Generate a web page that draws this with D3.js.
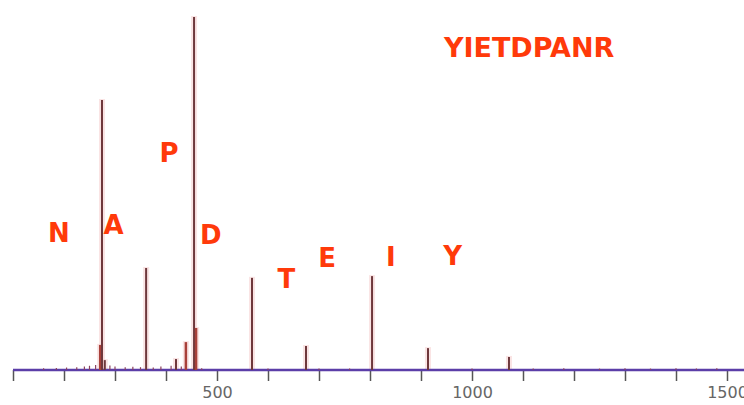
<!DOCTYPE html>
<html><head><meta charset="utf-8">
<script src="https://cdn.jsdelivr.net/npm/d3@7/dist/d3.min.js"></script>
<style>body{margin:0;background:#fff}svg{display:block}</style>
</head><body>
<svg id="c" width="744" height="405"></svg>
<script>
// m/z of peaks and relative intensities (% of base peak)
const peakMz = [271, 274.5, 280, 361, 419.6, 439, 455, 459, 568.6, 674.5, 804, 913.7, 1072.5];
const peakInt = [7.1, 76.5, 2.8, 28.9, 3.1, 7.9, 100, 11.9, 26.1, 6.8, 26.6, 6.2, 3.7];
// small noise peaks along the baseline
const noiseMz = [160, 185, 205, 225, 240, 250, 262, 290, 300, 320, 335, 350, 375, 390, 410, 430, 470, 600, 700, 760, 1000, 1120, 1180, 1250, 1300, 1350, 1400, 1440, 1480];
const noiseInt = [0.5, 0.6, 0.7, 0.8, 1.0, 1.2, 1.4, 1.3, 1.0, 0.8, 0.9, 0.8, 0.7, 1.0, 1.2, 1.0, 0.5, 0.4, 0.4, 0.4, 0.4, 0.4, 0.5, 0.4, 0.5, 0.4, 0.5, 0.4, 0.5];
const tickValues = [100,200,300,400,500,600,700,800,900,1000,1100,1200,1300,1400,1500];
const labeledTicks = [500, 1000, 1500];
// residue labels
const resLetters = ["N","A","P","D","T","E","I","Y"];
const resMz = [190, 297, 406, 488, 636, 716, 841, 962];
const resInt = [36.3, 38.5, 58.9, 35.7, 23.2, 29.2, 29.5, 29.7];
const title = "YIETDPANR";

const svg = d3.select("#c");
const x = d3.scaleLinear().domain([100, 1550]).range([13, 752.5]);
const y = d3.scaleLinear().domain([0, 100]).range([370, 17]);

// halo
svg.append("g").selectAll("line").data(peakMz).join("line")
  .attr("x1", d => x(d)).attr("x2", d => x(d))
  .attr("y1", y(0)).attr("y2", (d,i) => y(peakInt[i]) - 1)
  .attr("stroke", "#f7d3d3").attr("stroke-width", 6).attr("opacity", 0.6);

// axis
const ax = svg.append("g").attr("transform", `translate(0,${y(0)})`)
  .call(d3.axisBottom(x).tickValues(tickValues).tickSize(11).tickPadding(7)
    .tickFormat(d => labeledTicks.includes(d) ? d : ""));
ax.select(".domain").remove();
ax.selectAll(".tick line").attr("stroke", "#555").attr("stroke-width", 1.5);
ax.selectAll(".tick text").attr("fill", "#666").attr("font-family", "DejaVu Sans")
  .attr("font-size", 16).attr("dy", "0.6em");
svg.append("line").attr("x1", x(100)).attr("x2", 744).attr("y1", y(0)).attr("y2", y(0))
  .attr("stroke", "#5b3ea8").attr("stroke-width", 2.5);

// noise
svg.append("g").selectAll("line").data(noiseMz).join("line")
  .attr("x1", d => x(d)).attr("x2", d => x(d))
  .attr("y1", y(0)).attr("y2", (d,i) => y(noiseInt[i]))
  .attr("stroke", "#8a4060").attr("stroke-width", 1.2);

// peaks
svg.append("g").selectAll("line").data(peakMz).join("line")
  .attr("x1", d => x(d)).attr("x2", d => x(d))
  .attr("y1", y(0)).attr("y2", (d,i) => y(peakInt[i]))
  .attr("stroke", (d,i) => (peakInt[i] < 15 && peakInt[i] > 5 && d < 500) ? "#a8403a" : "#6e383c")
  .attr("stroke-width", (d,i) => (peakInt[i] < 15 && peakInt[i] > 5 && d < 500) ? 2.5 : 2);

// labels
svg.append("g").selectAll("text").data(resLetters).join("text")
  .attr("x", (d,i) => x(resMz[i])).attr("y", (d,i) => y(resInt[i]))
  .attr("text-anchor", "middle").attr("font-family", "DejaVu Sans").attr("font-weight", "bold")
  .attr("font-size", 26).attr("fill", "#ff3a0a").text(d => d);
svg.append("text").attr("x", x(1112)).attr("y", y(88.7))
  .attr("text-anchor", "middle").attr("font-family", "DejaVu Sans").attr("font-weight", "bold")
  .attr("font-size", 27).attr("fill", "#ff3a0a").text(title);
</script>
</body></html>
